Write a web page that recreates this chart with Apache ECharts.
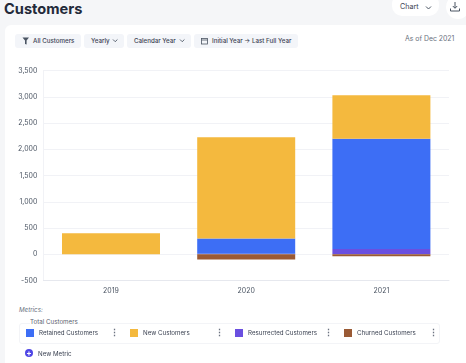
<!DOCTYPE html>
<html><head><meta charset="utf-8">
<script src="https://cdn.jsdelivr.net/npm/echarts@6/dist/echarts.min.js"></script>
<style>
html,body{margin:0;padding:0;width:466px;height:363px;overflow:hidden;background:#f5f6f8;font-family:Inter,sans-serif}
.a{position:absolute;white-space:nowrap}
#card{left:5px;top:25px;width:461px;height:338px;background:#fff;border-radius:6px 0 0 0}
#chart{left:0;top:0;width:466px;height:363px}
.pill{top:34px;height:14px;line-height:14px;background:#f3f5f9;border-radius:3px;font-size:6.2px;font-weight:500;color:#3b4252;text-align:left;box-sizing:border-box}
.k{color:#6b7280;font-size:9px;font-weight:700;top:327px;line-height:12px}
svg{position:absolute}
</style></head><body>
<div class="a" id="card"></div>
<div class="a" style="left:4px;top:-3px;font-size:14.6px;font-weight:700;color:#232a3a;line-height:24px">Customers</div>
<div class="a" style="left:392px;top:-6px;width:47px;height:22px;border-radius:10px;background:#fff"></div>
<div class="a" style="left:400px;top:1px;font-size:7.2px;color:#3b4252;line-height:12px">Chart</div>
<svg style="left:425px;top:5px" width="8" height="6"><path d="M1 1.5L3.5 4L6 1.5" fill="none" stroke="#4b5563" stroke-width="1"/></svg>
<div class="a" style="left:446px;top:-5px;width:24px;height:24px;border-radius:12px;background:#fff"></div>
<svg style="left:449px;top:1px" width="12" height="12"><path d="M6 1V7M3.8 5L6 7.3L8.2 5M1.5 7.5V10H10.5V7.5" fill="none" stroke="#4b5563" stroke-width="1"/></svg>

<div class="a pill" style="left:15px;width:66px;padding-left:18px">All Customers</div>
<svg style="left:22px;top:37px" width="8" height="8"><path d="M0.5 0.5H7L4.6 3.5V7.5L3 7V3.5Z" fill="#4b5563"/></svg>
<div class="a pill" style="left:84px;width:40px;padding-left:7px">Yearly</div>
<svg style="left:112px;top:38px" width="8" height="6"><path d="M1 1.5L3.2 3.7L5.4 1.5" fill="none" stroke="#4b5563" stroke-width=".9"/></svg>
<div class="a pill" style="left:127px;width:64px;padding-left:7px">Calendar Year</div>
<svg style="left:179px;top:38px" width="8" height="6"><path d="M1 1.5L3.2 3.7L5.4 1.5" fill="none" stroke="#4b5563" stroke-width=".9"/></svg>
<div class="a pill" style="left:194px;width:104px;padding-left:18px">Initial Year → Last Full Year</div>
<svg style="left:201px;top:37px" width="8" height="8"><rect x=".5" y="1.5" width="6" height="5.5" fill="none" stroke="#4b5563" stroke-width=".8"/><path d="M.5 3H6.5" stroke="#4b5563" stroke-width=".8"/></svg>
<div class="a" style="left:405px;top:33px;font-size:6.9px;color:#6b7280;line-height:12px">As of Dec 2021</div>

<div class="a" style="left:19px;top:305px;font-size:6.2px;font-style:italic;color:#6b7280;line-height:10px">Metrics:</div>
<div class="a" style="left:19px;top:323px;width:421px;height:21px;border:1px solid #f3f4f7;border-radius:3px;box-sizing:border-box"></div>
<div class="a" style="left:30px;top:316px;background:#fff;font-size:6.2px;color:#5b6270;line-height:11px">Total Customers</div>

<div class="a" id="chart"></div>

<div class="a k" style="left:110px">⋮</div>
<div class="a k" style="left:215px">⋮</div>
<div class="a k" style="left:324px">⋮</div>
<div class="a k" style="left:429px">⋮</div>
<div class="a" style="left:25px;top:349px;width:8px;height:8px;border-radius:4px;background:#4f46e5;color:#fff;font-size:8px;line-height:8px;text-align:center;font-weight:700">+</div>
<div class="a" style="left:38px;top:348px;font-size:6.2px;color:#3b4252;line-height:11px">New Metric</div>

<script>
var categories = ['2019', '2020', '2021'];
var resurrected = [0, 10, 100];
var retained = [0, 290, 2100];
var newCustomers = [400, 1930, 830];
var churned = [0, -100, -40];
var colors = {retained:'#3d6ef5', newC:'#f4b93e', resurrected:'#6a4fe0', churned:'#9a5a35'};
var yMin = -500, yMax = 3500, yStep = 500;

function bar(name, data, color){
  return {name:name, type:'bar', stack:'total', barWidth:98, data:data, itemStyle:{color:color}};
}
function legendAt(name, left){
  return {data:[name], left:left, top:329, itemWidth:8, itemHeight:8, icon:'rect', padding:0, selectedMode:false,
    textStyle:{fontSize:6.2, color:'#3b4252', fontFamily:'Inter'}, itemGap:0};
}
var chart = echarts.init(document.getElementById('chart'), null, {renderer:'canvas'});
chart.setOption({
  animation:false,
  backgroundColor:'transparent',
  grid:{left:43.4, right:17, top:70.5, bottom:82.5},
  legend:[
    legendAt('Retained Customers', 26),
    legendAt('New Customers', 130),
    legendAt('Resurrected Customers', 235),
    legendAt('Churned Customers', 344)
  ],
  xAxis:{type:'category', data:categories, axisTick:{show:false},
    axisLine:{lineStyle:{color:'#e6e8ee'}, onZero:false},
    axisLabel:{fontSize:7, color:'#4b5563', fontFamily:'Inter', margin:7}},
  yAxis:{type:'value', min:yMin, max:yMax, interval:yStep,
    axisLine:{show:true, lineStyle:{color:'#f1f2f6'}}, axisTick:{show:false},
    splitLine:{lineStyle:{color:'#f1f2f6'}},
    axisLabel:{fontSize:7, color:'#4b5563', fontFamily:'Inter', margin:6,
      formatter:function(v){return v.toLocaleString('en-US');}}},
  series:[
    bar('Resurrected Customers', resurrected, colors.resurrected),
    bar('Retained Customers', retained, colors.retained),
    bar('New Customers', newCustomers, colors.newC),
    bar('Churned Customers', churned, colors.churned)
  ]
});
</script>
</body></html>
